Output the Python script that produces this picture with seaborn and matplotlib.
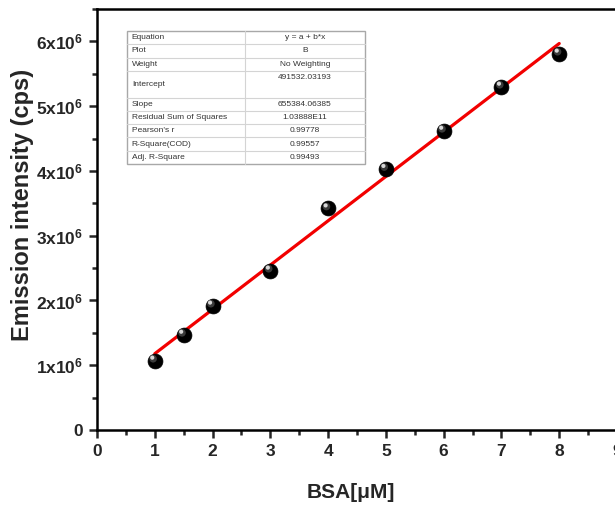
import matplotlib
matplotlib.use("Agg")
import matplotlib.pyplot as plt
from matplotlib.ticker import MultipleLocator, FuncFormatter
from matplotlib.transforms import offset_copy
import seaborn as sns
import pandas as pd

# ---- data ----
bsa_um = [1, 1.5, 2, 3, 4, 5, 6, 7, 8]
emission_cps = [1.07e6, 1.47e6, 1.92e6, 2.46e6, 3.42e6, 4.03e6, 4.62e6, 5.30e6, 5.81e6]

table_labels = ["Equation", "Plot", "Weight", "Intercept", "Slope",
                "Residual Sum of Squares", "Pearson's r", "R-Square(COD)", "Adj. R-Square"]
table_values = ["y = a + b*x", "B", "No Weighting", "491532.03193", "655384.06385",
                "1.03888E11", "0.99778", "0.99557", "0.99493"]
table_row_units = [1, 1, 1, 2, 1, 1, 1, 1, 1]

x_label = "BSA[\u03bcM]"
y_label = "Emission intensity (cps)"

df = pd.DataFrame({"x": bsa_um, "y": emission_cps})

sns.set_style("ticks")
plt.rcParams["font.family"] = ["Liberation Sans", "DejaVu Sans"]
plt.rcParams["mathtext.fontset"] = "custom"
plt.rcParams["mathtext.bf"] = "Liberation Sans:bold"
plt.rcParams["mathtext.rm"] = "Liberation Sans:bold"
plt.rcParams["mathtext.default"] = "bf"

fig = plt.figure(figsize=(6.15, 5.05), dpi=100)
ax = fig.add_axes([97 / 615, 75 / 505, 520 / 615, 421 / 505])

sns.regplot(data=df, x="x", y="y", ci=None, scatter=False, ax=ax,
            line_kws=dict(color="#f20000", lw=2.3, zorder=2))
sns.scatterplot(data=df, x="x", y="y", ax=ax, s=115, color="black",
                edgecolor="black", linewidth=0.5, zorder=3, legend=False)
sns.scatterplot(data=df, x="x", y="y", ax=ax, s=30, color="#3a3a3a",
                edgecolor="none", zorder=4, legend=False)
sns.scatterplot(data=df, x="x", y="y", ax=ax, s=9, color="#d8d8d8",
                edgecolor="none", zorder=5, legend=False)
colls = ax.collections
colls[-2].set_offset_transform(offset_copy(ax.transData, fig, x=-1.2, y=1.4, units="points"))
colls[-1].set_offset_transform(offset_copy(ax.transData, fig, x=-1.8, y=2.2, units="points"))

ax.set_xlim(0, 9)
ax.set_ylim(0, 6.5e6)
ax.xaxis.set_major_locator(MultipleLocator(1))
ax.xaxis.set_minor_locator(MultipleLocator(0.5))
ax.yaxis.set_major_locator(MultipleLocator(1e6))
ax.yaxis.set_minor_locator(MultipleLocator(0.5e6))


def yfmt(v, pos):
    n = int(round(v / 1e6))
    return "0" if n == 0 else f"{n}x10$^{{6}}$"


ax.yaxis.set_major_formatter(FuncFormatter(yfmt))
ax.xaxis.set_major_formatter(FuncFormatter(lambda v, p: f"{int(round(v))}"))

for s in ax.spines.values():
    s.set_linewidth(1.8)
    s.set_color("black")
ax.tick_params(which="major", direction="out", length=6, width=1.8, labelsize=12.5, pad=4)
ax.tick_params(which="minor", direction="out", length=3.5, width=1.8)
for lab in ax.get_xticklabels() + ax.get_yticklabels():
    lab.set_fontweight("bold")

ax.set_xlabel(x_label, fontsize=15, fontweight="bold")
ax.set_ylabel(y_label, fontsize=17, fontweight="bold")
ax.xaxis.set_label_coords((351 - 97) / 520, -0.125)
ax.yaxis.set_label_coords((34 - 97) / 520, 0.534)

# ---- fit summary table ----
tab = fig.add_axes([127 / 615, 1 - 164 / 505, (365 - 127) / 615, (164 - 31) / 505])
total = sum(table_row_units)
tab.set_xlim(0, 1)
tab.set_ylim(total, 0)
tab.axis("off")
tab.add_patch(plt.Rectangle((0, 0), 1, total, facecolor="white", edgecolor="#a8a8a8",
                            lw=1.0, clip_on=False))
split = (245 - 127) / (365 - 127)
tab.plot([split, split], [0, total], color="#d4d4d4", lw=0.8, clip_on=False)
ypos = 0
for lab, val, u in zip(table_labels, table_values, table_row_units):
    if ypos > 0:
        tab.plot([0, 1], [ypos, ypos], color="#d4d4d4", lw=0.8, clip_on=False)
    tab.text(0.02, ypos + u / 2, lab, fontsize=6.0, color="#333333", va="center", ha="left")
    tab.text((split + 1) / 2, ypos + 0.5, val, fontsize=6.0, color="#333333", va="center", ha="center")
    ypos += u

fig.savefig("out.png", dpi=100)
